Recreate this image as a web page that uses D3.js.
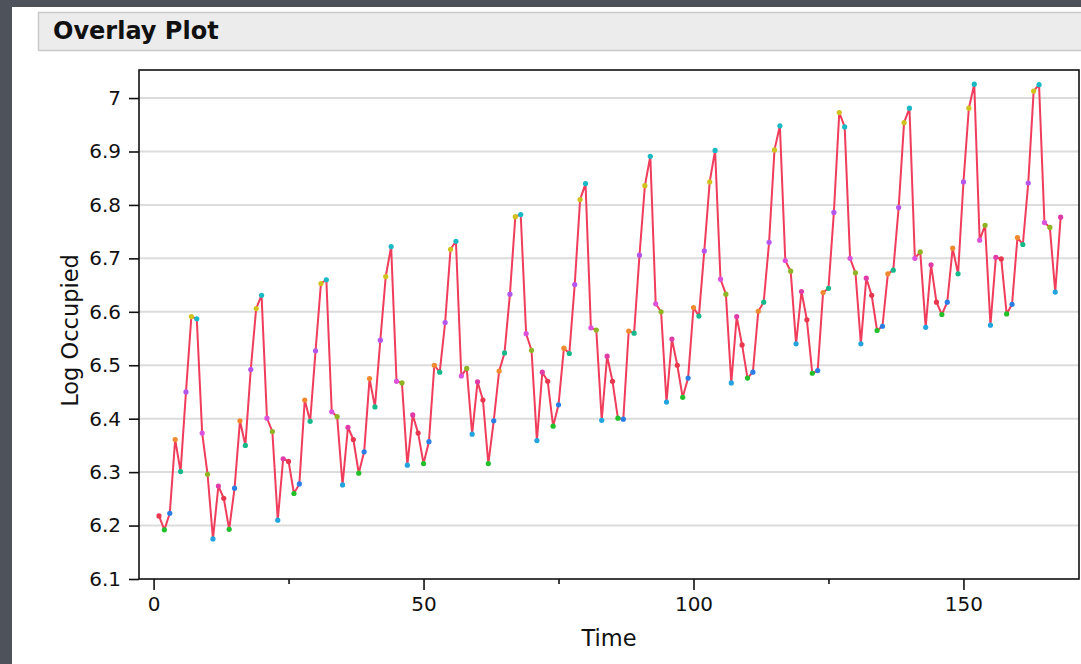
<!DOCTYPE html>
<html lang="en">
<head>
<meta charset="utf-8">
<title>Overlay Plot</title>
<script src="https://cdn.jsdelivr.net/npm/d3@7"></script>
<style>
  html, body { margin: 0; padding: 0; background: #4d525b; }
  svg { display: block; }
  text { font-family: "DejaVu Sans", sans-serif; fill: #111; }
</style>
</head>
<body>
<script>
// log occupied, one value per month, time 1..168
var logOccupied = [
  6.218, 6.192, 6.223, 6.361, 6.301, 6.450, 6.591, 6.587, 6.373, 6.296, 6.175, 6.274,
  6.251, 6.193, 6.270, 6.396, 6.350, 6.492, 6.606, 6.631, 6.401, 6.376, 6.210, 6.325,
  6.320, 6.260, 6.278, 6.435, 6.395, 6.527, 6.653, 6.660, 6.413, 6.404, 6.276, 6.384,
  6.361, 6.298, 6.338, 6.475, 6.422, 6.547, 6.666, 6.722, 6.470, 6.467, 6.313, 6.407,
  6.373, 6.316, 6.357, 6.500, 6.487, 6.580, 6.717, 6.732, 6.480, 6.494, 6.371, 6.469,
  6.435, 6.316, 6.396, 6.489, 6.523, 6.633, 6.778, 6.782, 6.559, 6.528, 6.359, 6.487,
  6.470, 6.386, 6.426, 6.532, 6.522, 6.651, 6.810, 6.840, 6.570, 6.566, 6.397, 6.517,
  6.470, 6.401, 6.399, 6.564, 6.560, 6.706, 6.836, 6.891, 6.615, 6.600, 6.431, 6.549,
  6.500, 6.440, 6.476, 6.608, 6.592, 6.714, 6.843, 6.902, 6.661, 6.633, 6.467, 6.591,
  6.538, 6.476, 6.487, 6.601, 6.618, 6.730, 6.903, 6.948, 6.696, 6.676, 6.540, 6.638,
  6.585, 6.485, 6.490, 6.636, 6.644, 6.786, 6.973, 6.946, 6.700, 6.673, 6.540, 6.663,
  6.631, 6.565, 6.573, 6.671, 6.678, 6.795, 6.954, 6.981, 6.700, 6.712, 6.571, 6.688,
  6.618, 6.595, 6.618, 6.719, 6.671, 6.843, 6.981, 7.026, 6.734, 6.762, 6.575, 6.702,
  6.699, 6.596, 6.614, 6.739, 6.726, 6.841, 7.013, 7.025, 6.767, 6.758, 6.637, 6.777
];
var yTicks = [6.1, 6.2, 6.3, 6.4, 6.5, 6.6, 6.7, 6.8, 6.9, 7];
var xMajor = [0, 50, 100, 150];
var xMinor = [25, 75, 125];
// marker colour per month of the year
var monthColors = ["#e8384f", "#22c02a", "#2a7fe6", "#ef8a2e", "#17b98a", "#b455ee",
                   "#d2c21e", "#19b9c6", "#dc52dc", "#8fb524", "#23a4de", "#e03ca8"];

var W = 1081, H = 664;
var pLeft = 139, pRight = 1079, pTop = 70, pBottom = 579;

var data = logOccupied.map(function(v, i) { return { t: i + 1, v: v }; });

var svg = d3.select("body").append("svg").attr("width", W).attr("height", H);

// white panel and header bar
svg.append("rect").attr("x", 12).attr("y", 7).attr("width", W - 12).attr("height", H - 7).attr("fill", "#fff");
svg.append("rect").attr("x", 38.5).attr("y", 12.5).attr("width", W).attr("height", 38)
   .attr("fill", "#ececec").attr("stroke", "#c9c9c9").attr("stroke-width", 1.5);
svg.append("text").attr("x", 53).attr("y", 39).attr("font-size", "24px").attr("font-weight", "bold")
   .text("Overlay Plot");

var x = d3.scaleLinear().domain([-2.7, 171.4]).range([pLeft, pRight]);
var y = d3.scaleLinear().domain([6.1, 7.0525]).range([pBottom, pTop]);

// grid
svg.append("g").selectAll("line").data(yTicks.slice(1)).enter().append("line")
   .attr("x1", pLeft).attr("x2", pRight)
   .attr("y1", function(d) { return y(d); }).attr("y2", function(d) { return y(d); })
   .attr("stroke", "#dcdcdc").attr("stroke-width", 2);

// axes
var yAxis = d3.axisLeft(y).tickValues(yTicks).tickSize(10).tickPadding(8)
   .tickFormat(function(d) { return d3.format("")(d); });
var gy = svg.append("g").attr("transform", "translate(" + pLeft + ",0)").call(yAxis);

var gx = svg.append("g").attr("transform", "translate(0," + pBottom + ")")
   .call(d3.axisBottom(x).tickValues(xMajor).tickSize(11).tickPadding(7).tickFormat(d3.format("d")));
var gxm = svg.append("g").attr("transform", "translate(0," + pBottom + ")")
   .call(d3.axisBottom(x).tickValues(xMinor).tickSize(5).tickFormat(""));

[gy, gx, gxm].forEach(function(g) {
  g.select(".domain").remove();
  g.selectAll(".tick line").attr("stroke", "#111").attr("stroke-width", 1.6);
  g.selectAll(".tick text").attr("font-size", "20px").attr("font-family", "DejaVu Sans, sans-serif").attr("fill", "#111");
});

// line
var line = d3.line().x(function(d) { return x(d.t); }).y(function(d) { return y(d.v); });
svg.append("path").datum(data).attr("d", line).attr("fill", "none")
   .attr("stroke", "#ef3d5b").attr("stroke-width", 2).attr("stroke-linejoin", "round");

// markers
svg.append("g").selectAll("circle").data(data).enter().append("circle")
   .attr("cx", function(d) { return x(d.t); })
   .attr("cy", function(d) { return y(d.v); })
   .attr("r", 2.6)
   .attr("fill", function(d) { return monthColors[(d.t - 1) % 12]; });

// frame
svg.append("rect").attr("x", pLeft).attr("y", pTop).attr("width", pRight - pLeft).attr("height", pBottom - pTop)
   .attr("fill", "none").attr("stroke", "#111").attr("stroke-width", 1.6);

// titles
svg.append("text").attr("x", (pLeft + pRight) / 2).attr("y", 646).attr("text-anchor", "middle")
   .attr("font-size", "22.5px").text("Time");
svg.append("text").attr("transform", "translate(78," + ((pTop + pBottom) / 2 + 6) + ") rotate(-90)")
   .attr("text-anchor", "middle").attr("font-size", "22.5px").text("Log Occupied");
</script>
</body>
</html>
